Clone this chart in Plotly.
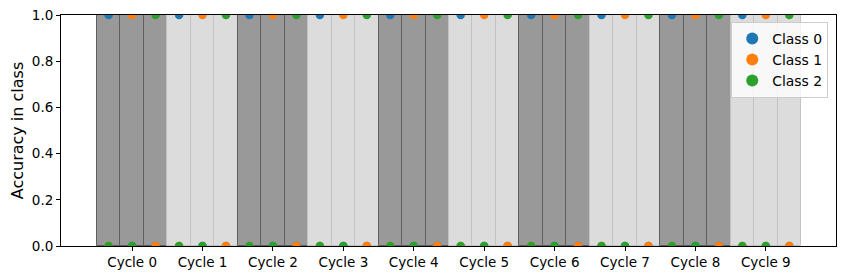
import plotly.graph_objects as go

cycles = [f"Cycle {k}" for k in range(10)]
steps_per_cycle = 3
n_steps = len(cycles) * steps_per_cycle
class_names = ["Class 0", "Class 1", "Class 2"]
class_colors = ["#1f77b4", "#ff7f0e", "#2ca02c"]
# accuracy per class at each step (step within cycle: 0,1,2)
acc_class0 = [1, 0, 0] * 10
acc_class1 = [0, 1, 0] * 10
acc_class2 = [0, 0, 1] * 10
accs = [acc_class0, acc_class1, acc_class2]
band_height = [1] * n_steps

steps = list(range(n_steps))
fill = ["#999999" if (s // 3) % 2 == 0 else "#dcdcdc" for s in steps]
edge = ["#5f5f5f" if (s // 3) % 2 == 0 else "#c2c2c2" for s in steps]

fig = go.Figure()
fig.add_trace(go.Bar(x=steps, y=band_height, width=1, marker=dict(color=fill, line=dict(color=edge, width=1)),
                     showlegend=False, hoverinfo="skip"))
for name, col, a in zip(class_names, class_colors, accs):
    fig.add_trace(go.Scatter(x=steps, y=a, mode="markers", name=name,
                             marker=dict(color=col, size=8.5), cliponaxis=True))

fig.update_layout(
    width=838, height=272,
    margin=dict(l=53, r=10, t=7, b=34, autoexpand=False),
    plot_bgcolor="white", paper_bgcolor="white",
    bargap=0,
    font=dict(family="DejaVu Sans", size=13.5, color="black"),
    legend=dict(x=0.99, y=0.97, xanchor="right", yanchor="top",
                bgcolor="rgba(255,255,255,0.8)", bordercolor="#cccccc", borderwidth=1,
                font=dict(size=13.9), itemsizing="constant", tracegroupgap=0),
    xaxis=dict(range=[-2.03, 30.99], showgrid=False, zeroline=False, automargin=False,
               tickmode="array", tickvals=[3 * k + 1 for k in range(10)],
               ticktext=cycles, tickfont=dict(size=13.5, color="black"),
               ticks="outside", ticklen=4, tickcolor="black", ticklabeloverflow="allow",
               showline=True, linecolor="black", linewidth=1, mirror=True),
    yaxis=dict(range=[0, 1], showgrid=False, zeroline=False, automargin=False,
               tickmode="array", tickvals=[0, 0.2, 0.4, 0.6, 0.8, 1.0],
               ticktext=["0.0", "0.2", "0.4", "0.6", "0.8", "1.0"],
               ticks="outside", ticklen=4, tickcolor="black", ticklabeloverflow="allow",
               showline=True, linecolor="black", linewidth=1, mirror=True,
               title=dict(text="Accuracy in class", standoff=8)),
)
fig.write_html("out.html")
